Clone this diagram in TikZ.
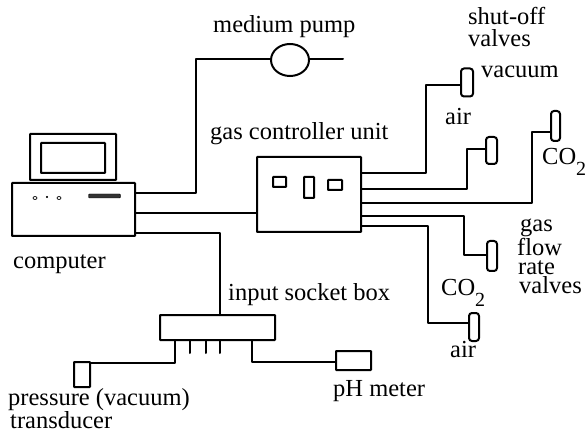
\documentclass[tikz,border=0pt]{standalone}
\usepackage{fontspec}
\setmainfont{Liberation Serif}
\usetikzlibrary{shapes.geometric}
\newcommand{\cotwo}{CO\raisebox{-11pt}{\fontsize{20}{20}\selectfont 2}}
\tikzset{
  wire/.style={line width=2pt,line cap=round,line join=round},
  unitbox/.style={draw,line width=2pt,rounded corners=0.6pt,inner sep=0pt},
  valvebox/.style={draw,line width=2pt,rounded corners=3pt,inner sep=0pt},
  lbl/.style={anchor=base west,inner sep=0pt,font=\fontsize{24.5}{28}\selectfont},
  stack/.style={anchor=north west,inner sep=0pt,align=left,font=\fontsize{24.5}{#1}\selectfont},
}
\begin{document}
\begin{tikzpicture}[x=1pt,y=-1pt]
        \useasboundingbox(0,0)rectangle(586,430);
        % computer
        \node[unitbox,minimum width=86pt,minimum height=46pt](monitor)at(73,157){};
        \node[unitbox,minimum width=64pt,minimum height=30pt](screen)at(73,158){};
        \node[unitbox,minimum width=123pt,minimum height=53pt](case)at(73.5,209.5){};
        \node[draw,ellipse,line width=0.7pt,inner sep=0pt,minimum width=4pt,minimum height=3pt](led1)at(35,198){};
        \node[draw,circle,fill,inner sep=0pt,minimum size=1.5pt](led2)at(47,197){};
        \node[draw,ellipse,line width=0.7pt,inner sep=0pt,minimum width=4pt,minimum height=3pt](led3)at(59,198){};
        \node[draw,fill=black!80,rounded corners=1pt,inner sep=0pt,minimum width=32pt,minimum height=4pt](slot)at(104.5,196){};
        % pump and boxes
        \node[draw,ellipse,line width=2pt,inner sep=0pt,minimum width=38pt,minimum height=32pt](pump)at(290,60){};
        \node[unitbox,minimum width=104pt,minimum height=75pt](gasunit)at(309,194.5){};
        \node[unitbox,minimum width=13pt,minimum height=10pt](dial1)at(279.5,182){};
        \node[unitbox,minimum width=10pt,minimum height=21pt](dial2)at(309,187.5){};
        \node[unitbox,minimum width=14pt,minimum height=10pt](dial3)at(335,185){};
        \node[unitbox,minimum width=115pt,minimum height=25pt](socket)at(217.5,327.5){};
        \node[unitbox,minimum width=16pt,minimum height=25pt](transducer)at(82,374.5){};
        \node[unitbox,minimum width=35pt,minimum height=19pt](phmeter)at(353.5,360.5){};
        % valves
        \node[valvebox,minimum width=12pt,minimum height=28pt](vacvalve)at(467,82.5){};
        \node[valvebox,minimum width=11pt,minimum height=27pt](airvalveA)at(491.5,150.5){};
        \node[valvebox,minimum width=9pt,minimum height=30pt](covalveA)at(555.5,126){};
        \node[valvebox,minimum width=10pt,minimum height=30pt](covalveB)at(492,256){};
        \node[valvebox,minimum width=10pt,minimum height=28pt](airvalveB)at(474,327){};
        % free ends
        \coordinate(pumpout)at(343,59);
        \coordinate(pinA)at(190,340);
        \coordinate(pinB)at(206,340);
        \coordinate(pinC)at(220,340);
        % connectors
        \draw[wire](case.east|-0,193)-|(196,59)--(pump.west|-0,59);
        \draw[wire](pump.east|-0,59)--(pumpout);
        \draw[wire](case.east|-0,213)--(gasunit.west|-0,213);
        \draw[wire](case.east|-0,233)-|(220,315);
        \draw[wire](175,340)|-(transducer.east|-0,363);
        \draw[wire](252,340)|-(phmeter.west|-0,362);
        \draw[wire](pinA)--++(0,13);
        \draw[wire](pinB)--++(0,13);
        \draw[wire](pinC)--++(0,13);
        \draw[wire](gasunit.east|-0,173)-|(426,85)--(vacvalve.west|-0,85);
        \draw[wire](gasunit.east|-0,189)-|(467,149)--(airvalveA.west|-0,149);
        \draw[wire](gasunit.east|-0,203)-|(532,132)--(covalveA.west|-0,132);
        \draw[wire](gasunit.east|-0,216)-|(464,255)--(covalveB.west|-0,255);
        \draw[wire](gasunit.east|-0,226)-|(428,323)--(airvalveB.west|-0,323);
        % labels
        \node[lbl](medium)at(213,33){medium pump};
        \node[stack=22](shutoff)at(468,7){shut-off\\valves};
        \node[lbl](vacuum)at(481,78){vacuum};
        \node[lbl](airA)at(445,125){air};
        \node[lbl](gasctrl)at(210,140){gas controller unit};
        \node[lbl](coA)at(542,165){\cotwo};
        \node[stack=19](gasvalves)at(517,219){\hspace*{3pt}gas\\flow\\\hspace*{1pt}rate\\\hspace*{2pt}valves};
        \node[lbl](coB)at(441,295){\cotwo};
        \node[lbl](airB)at(450,357){air};
        \node[lbl](computer)at(13,269){computer};
        \node[lbl](socketlbl)at(228,301){input socket box};
        \node[lbl](phlbl)at(333,396){pH meter};
        \node[stack=20](pressure)at(8,388){pressure (vacuum)\\\hspace*{2pt}transducer};
    \end{tikzpicture}
\end{document}
